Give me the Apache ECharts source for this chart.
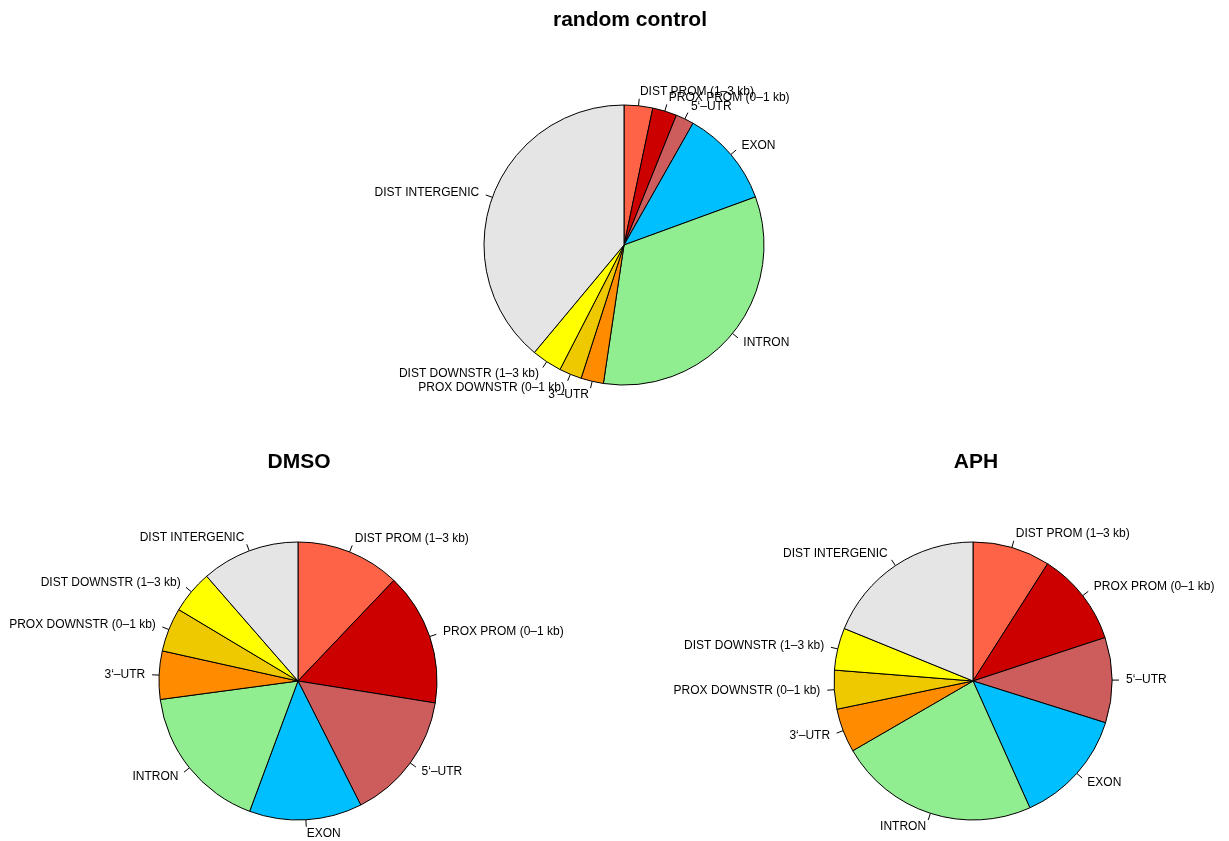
<!DOCTYPE html>
<html>
<head>
<meta charset="utf-8">
<script src="https://cdn.jsdelivr.net/npm/echarts@6/dist/echarts.min.js"></script>
<style>
html,body{margin:0;padding:0;background:#fff;}
#chart{width:1229px;height:841px;}
</style>
</head>
<body>
<div id="chart"></div>
<script>
// ---- data ----
const categories = ["DIST PROM (1\u20133 kb)", "PROX PROM (0\u20131 kb)", "5\u2018\u2013UTR", "EXON", "INTRON",
  "3\u2018\u2013UTR", "PROX DOWNSTR (0\u20131 kb)", "DIST DOWNSTR (1\u20133 kb)", "DIST INTERGENIC"];
const randomControl = [3.3, 2.8, 2.1, 11.2, 32.9, 2.6, 2.6, 3.5, 38.9];
const dmso = [12.1, 15.4, 15.0, 13.1, 17.2, 5.6, 5.1, 5.0, 11.4];
const aph = [9.0, 10.9, 9.9, 13.4, 23.3, 5.1, 4.5, 4.9, 18.8];
const titles = ["random control", "DMSO", "APH"];

// ---- styles ----
const colors = ["#FF6347", "#CD0000", "#CD5C5C", "#00BFFF", "#90EE90", "#FF8C00", "#EEC900", "#FFFF00", "#E5E5E5"];
const FONT = "Liberation Sans, Arial, Helvetica, sans-serif";

function labelLayout(params) {
  const pts = params.labelLinePoints;
  const out = { hideOverlap: false, moveOverlap: false };
  if (pts && pts.length >= 2) {
    const ux = pts[1][0] - pts[0][0], uy = pts[1][1] - pts[0][1];
    const len = Math.sqrt(ux * ux + uy * uy) || 1;
    out.dx = 7 * ux / len;
    out.dy = 7 * uy / len;
  }
  return out;
}

function pieSeries(values, center, radius) {
  return {
    type: 'pie',
    center: center,
    radius: radius,
    startAngle: 90,
    clockwise: true,
    avoidLabelOverlap: false,
    animation: false,
    silent: true,
    data: categories.map((c, i) => ({ name: c, value: values[i], itemStyle: { color: colors[i] } })),
    itemStyle: { borderColor: '#000', borderWidth: 1 },
    label: {
      show: true,
      position: 'outside',
      color: '#000',
      fontFamily: FONT,
      fontSize: 12,
      distanceToLabelLine: 0,
      formatter: '{b}'
    },
    labelLine: {
      show: true,
      length: 7,
      length2: 0,
      smooth: false,
      lineStyle: { color: '#000', width: 1 }
    },
    labelLayout: labelLayout,
    emphasis: { disabled: true }
  };
}

const chart = echarts.init(document.getElementById('chart'), null, { renderer: 'canvas' });
chart.setOption({
  backgroundColor: '#ffffff',
  animation: false,
  graphic: [
    { type: 'text', x: 630, y: 20, style: { text: titles[0], font: 'bold 21px ' + FONT, fill: '#000', align: 'center', verticalAlign: 'middle' } },
    { type: 'text', x: 299, y: 462, style: { text: titles[1], font: 'bold 21px ' + FONT, fill: '#000', align: 'center', verticalAlign: 'middle' } },
    { type: 'text', x: 976, y: 462, style: { text: titles[2], font: 'bold 21px ' + FONT, fill: '#000', align: 'center', verticalAlign: 'middle' } }
  ],
  series: [
    pieSeries(randomControl, [624, 245], 140),
    pieSeries(dmso, [298, 681], 139),
    pieSeries(aph, [973, 681], 139)
  ]
});
</script>
</body>
</html>
